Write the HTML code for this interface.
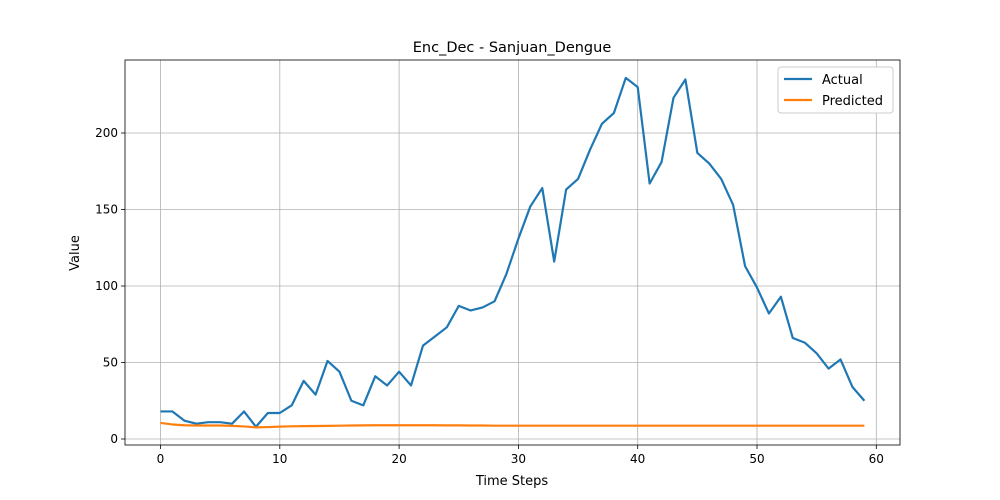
<!DOCTYPE html>
<html><head><meta charset="utf-8"><style>
html,body{margin:0;padding:0;background:#fff;}
svg{display:block;font-family:"DejaVu Sans","Liberation Sans",sans-serif;}
</style></head><body>
<svg id="chart" width="1000" height="500"></svg>
<script>
const steps = Array.from({length:60},(_,i)=>i);
const actual = [18,18,12,10,11,11,10,18,8,17,17,22,38,29,51,44,25,22,41,35,44,35,61,67,73,87,84,86,90,108,131,152,164,116,163,170,189,206,213,236,230,167,181,223,235,187,180,170,153,113,99,82,93,66,63,56,46,52,34,25];
const predicted = [10.5,9.5,9,8.8,8.8,8.8,8.6,8.2,7.6,7.8,8.1,8.3,8.4,8.5,8.6,8.7,8.8,8.9,9,9,9,9,9,9,8.9,8.9,8.8,8.8,8.7,8.7,8.7,8.7,8.7,8.7,8.7,8.7,8.7,8.7,8.7,8.7,8.7,8.7,8.7,8.7,8.7,8.7,8.7,8.7,8.7,8.7,8.7,8.7,8.7,8.7,8.7,8.7,8.7,8.7,8.7,8.7];
const xTicks = [0,10,20,30,40,50,60];
const yTicks = [0,50,100,150,200];

const NS="http://www.w3.org/2000/svg";
const svg=document.getElementById('chart');
const L=125,R=900,T=60,B=445;
const xS=v=>160.5+v*11.93;
const yS=v=>439-v*1.53;
function mk(tag,attrs,parent){const e=document.createElementNS(NS,tag);for(const k in attrs)e.setAttribute(k,attrs[k]);(parent||svg).appendChild(e);return e;}

xTicks.forEach(t=>{
  const g=mk('line',{x1:xS(t),x2:xS(t),y1:T,y2:B,stroke:'#b0b0b0','stroke-width':0.8});
  
  
  mk('line',{x1:xS(t),x2:xS(t),y1:B,y2:B+4,stroke:'#000','stroke-width':0.8});
  const tx=mk('text',{x:xS(t),y:B+18,'text-anchor':'middle','font-size':12,fill:'#000'});
  tx.textContent=t;
  
  
});
yTicks.forEach(t=>{
  const g=mk('line',{x1:L,x2:R,y1:yS(t),y2:yS(t),stroke:'#b0b0b0','stroke-width':0.8});
  
  
  mk('line',{x1:L-4,x2:L,y1:yS(t),y2:yS(t),stroke:'#000','stroke-width':0.8});
  const tx=mk('text',{x:L-7,y:yS(t)+4,'text-anchor':'end','font-size':12,fill:'#000'});
  tx.textContent=t;
  
  
});

function series(vals,color,name){
  const d=vals.map((v,i)=>(i?'L':'M')+xS(steps[i])+','+yS(v)).join(' ');
  const p=mk('path',{d:d,fill:'none',stroke:color,'stroke-width':2.2,'stroke-linejoin':'round'});
  
  
}
series(actual,'#1f77b4','actual-line');
series(predicted,'#ff7f0e','predicted-line');

const frame=mk('rect',{x:L,y:T,width:R-L,height:B-T,fill:'none',stroke:'#000','stroke-width':0.8});



const title=mk('text',{x:512,y:52,'text-anchor':'middle','font-size':14.5});
title.textContent='Enc_Dec - Sanjuan_Dengue';


const xl=mk('text',{x:512,y:485,'text-anchor':'middle','font-size':13});
xl.textContent='Time Steps';


const yl=mk('text',{x:79,y:253,'text-anchor':'middle','font-size':13,transform:'rotate(-90 79 253)'});
yl.textContent='Value';



const lg=mk('g',{});


mk('rect',{x:778,y:67,width:115,height:46,rx:3,fill:'#fff',stroke:'#ccc','stroke-width':1},lg);
[['Actual','#1f77b4',79],['Predicted','#ff7f0e',100]].forEach(([n,c,y])=>{
  const ln=mk('line',{x1:784,x2:812,y1:y,y2:y,stroke:c,'stroke-width':2.2},lg);
  
  
  const t=mk('text',{x:822,y:y+5,'font-size':13},lg);
  t.textContent=n;
  
  
});
</script>
</body></html>
